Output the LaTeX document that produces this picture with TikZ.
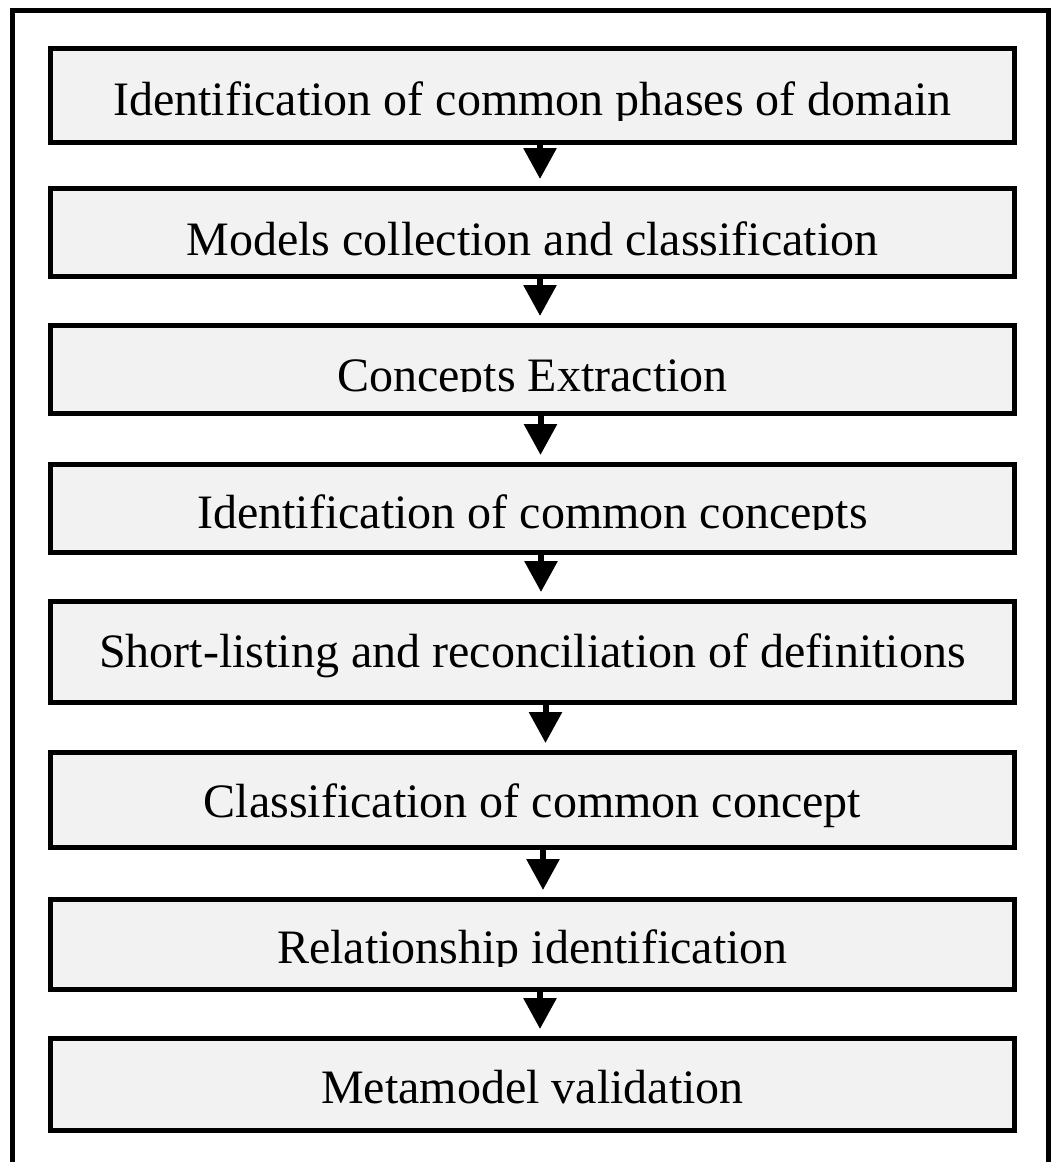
\documentclass[tikz,border=0pt]{standalone}
\usepackage{fontspec}
\setmainfont{Liberation Serif}
\usetikzlibrary{arrows.meta}
\definecolor{boxgray}{HTML}{F2F2F2}
\begin{document}
\begin{tikzpicture}[x=1pt,y=-1pt,
  stage/.style={draw=black, line width=5pt, fill=boxgray, minimum width=964pt,
    inner sep=0pt, font=\fontsize{48}{52}\selectfont, text depth=0pt, text height=#1},
  flow/.style={line width=6pt, -{Triangle[length=31pt,width=32pt]}, shorten >=7pt},
  mask/.style={fill=boxgray},
  frame/.style={line width=5pt}]
\useasboundingbox (0,0) rectangle (1053,1162);
\draw[frame] (12.5,1175) -- (12.5,10) -- (1048.5,10) -- (1048.5,1175);

\node[stage=39pt, minimum height=94pt] (b1) at (532.5,95.5) {Identification of common phases of domain};
\node[stage=45pt, minimum height=88pt] (b2) at (532.5,232.5) {Models collection and classification};
\node[stage=43pt, minimum height=88pt] (b3) at (532.5,369.5) {Concepts Extraction};
\node[stage=39pt, minimum height=88pt] (b4) at (532.5,508.5) {Identification of common concepts};
\node[stage=30pt, minimum height=101pt] (b5) at (532.5,652) {Short-listing and reconciliation of definitions};
\node[stage=34pt, minimum height=95pt] (b6) at (532.5,800) {Classification of common concept};
\node[stage=37pt, minimum height=90pt] (b7) at (532.5,944.5) {Relationship identification};
\node[stage=37pt, minimum height=92pt] (b8) at (532.5,1084.5) {Metamodel validation};

% clipped descenders, as in the reference
\fill[mask] (60,121) rectangle (1005,140);
\fill[mask] (60,392) rectangle (1005,411);
\fill[mask] (60,530) rectangle (1005,550);
\fill[mask] (60,967) rectangle (1005,987);

\draw[flow] ([xshift=7.5pt]b1.south) -- ([xshift=7.5pt]b2.north);
\draw[flow] ([xshift=7.5pt]b2.south) -- ([xshift=7.5pt]b3.north);
\draw[flow] ([xshift=8pt]b3.south) -- ([xshift=8pt]b4.north);
\draw[flow] ([xshift=8.5pt]b4.south) -- ([xshift=8.5pt]b5.north);
\draw[flow] ([xshift=13pt]b5.south) -- ([xshift=13pt]b6.north);
\draw[flow] ([xshift=10.5pt]b6.south) -- ([xshift=10.5pt]b7.north);
\draw[flow] ([xshift=7.5pt]b7.south) -- ([xshift=7.5pt]b8.north);
\end{tikzpicture}
\end{document}
